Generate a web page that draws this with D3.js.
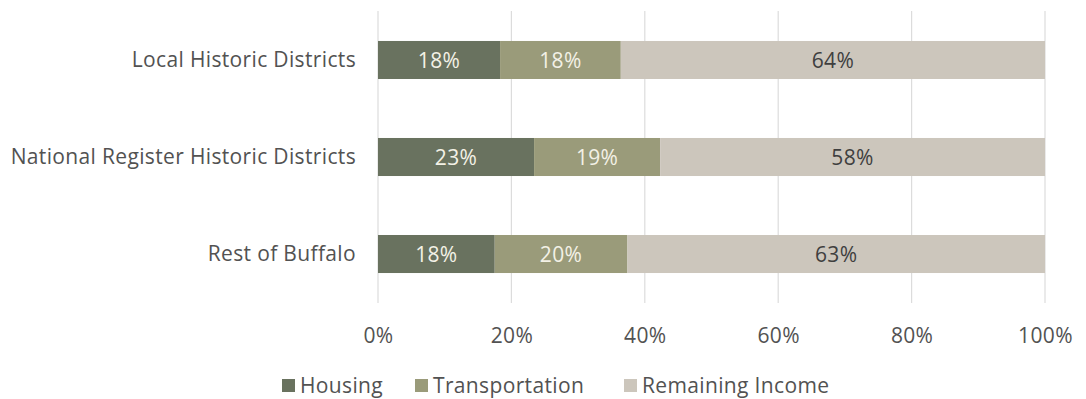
<!DOCTYPE html>
<html>
<head>
<meta charset="utf-8">
<script src="https://cdn.jsdelivr.net/npm/d3@7"></script>
<style>
  html, body { margin: 0; padding: 0; background: #ffffff; }
  svg { display: block; }
  text { font-family: "Open Sans", Lato, sans-serif; letter-spacing: 0.35px; }
</style>
</head>
<body>
<svg id="chart" width="1086" height="399"></svg>
<script>
// Share of income by area (percent)
const categories = ["Local Historic Districts", "National Register Historic Districts", "Rest of Buffalo"];
const seriesNames = ["Housing", "Transportation", "Remaining Income"];
const housing = [18.3, 23.4, 17.5];
const transportation = [18.1, 18.9, 19.9];
const remaining = [63.6, 57.7, 62.6];
const tickValues = [0, 20, 40, 60, 80, 100];

const colors = ["#69725f", "#9a9b7a", "#ccc6bc"];
const labelColors = ["#f3f1e6", "#f3f1e6", "#3f3f3f"];
const textColor = "#525252";
const fontSize = 21;

const svg = d3.select("#chart");
const plotLeft = 378, plotRight = 1045, plotTop = 11, plotBottom = 303;

const rows = categories.map((c, i) => ({
  category: c,
  Housing: housing[i],
  Transportation: transportation[i],
  "Remaining Income": remaining[i]
}));

const stacked = d3.stack().keys(seriesNames)(rows);

const x = d3.scaleLinear().domain([0, 100]).range([plotLeft, plotRight]);
const y = d3.scaleBand().domain(categories).range([plotTop, plotBottom])
  .paddingInner(0.608).paddingOuter(0.309);

// vertical gridlines
svg.append("g")
  .selectAll("line")
  .data(tickValues)
  .join("line")
  .attr("x1", d => x(d)).attr("x2", d => x(d))
  .attr("y1", plotTop).attr("y2", plotBottom)
  .attr("stroke", "#dcdcdc")
  .attr("stroke-width", 1.2);

// stacked bars
const layers = svg.append("g")
  .selectAll("g")
  .data(stacked)
  .join("g")
  .attr("fill", (d, i) => colors[i]);

layers.selectAll("rect")
  .data(d => d)
  .join("rect")
  .attr("x", d => x(d[0]))
  .attr("y", d => y(d.data.category))
  .attr("width", d => x(d[1]) - x(d[0]))
  .attr("height", y.bandwidth());

// value labels
stacked.forEach((layer, li) => {
  svg.append("g")
    .selectAll("text")
    .data(layer)
    .join("text")
    .attr("x", d => (x(d[0]) + x(d[1])) / 2)
    .attr("y", d => y(d.data.category) + y.bandwidth() / 2)
    .attr("dy", "0.36em")
    .attr("text-anchor", "middle")
    .attr("fill", labelColors[li])
    .attr("font-size", fontSize)
    .text(d => Math.round(d[1] - d[0]) + "%");
});

// category axis
const yAxis = svg.append("g")
  .attr("transform", `translate(${plotLeft - 22},0)`)
  .call(d3.axisLeft(y).tickSize(0).tickPadding(0));
yAxis.select(".domain").remove();
yAxis.selectAll("text")
  .attr("font-size", fontSize)
  .attr("fill", textColor)
  .attr("font-family", "'Open Sans', Lato, sans-serif");

// percent axis
const xAxis = svg.append("g")
  .attr("transform", `translate(0,${plotBottom})`)
  .call(d3.axisBottom(x).tickValues(tickValues).tickSize(0).tickPadding(25).tickFormat(d => d + "%"));
xAxis.select(".domain").remove();
xAxis.selectAll("text")
  .attr("font-size", fontSize)
  .attr("fill", textColor)
  .attr("font-family", "'Open Sans', Lato, sans-serif");

// legend
const legendX = [282, 415, 624];
const legend = svg.append("g")
  .selectAll("g")
  .data(seriesNames)
  .join("g")
  .attr("transform", (d, i) => `translate(${legendX[i]},379)`);
legend.append("rect")
  .attr("width", 13).attr("height", 13)
  .attr("fill", (d, i) => colors[i]);
legend.append("text")
  .attr("x", 18).attr("y", 6.5)
  .attr("dy", "0.36em")
  .attr("font-size", fontSize)
  .attr("fill", textColor)
  .text(d => d);
</script>
</body>
</html>
